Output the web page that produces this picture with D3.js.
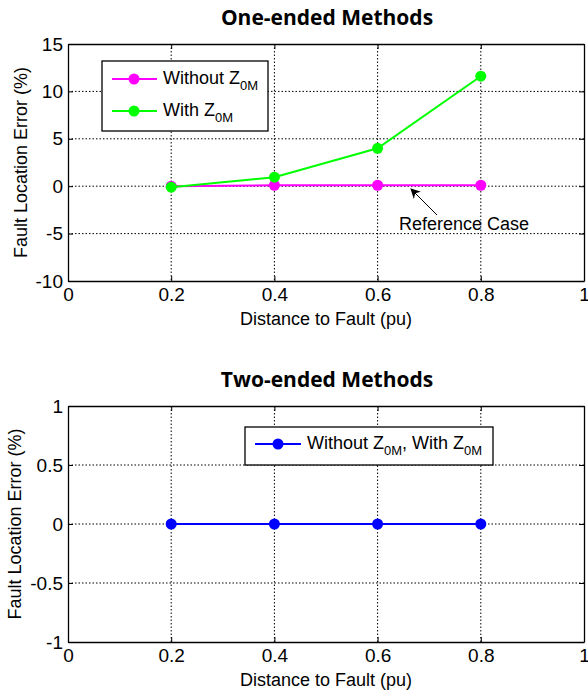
<!DOCTYPE html>
<html>
<head>
<meta charset="utf-8">
<script src="https://cdn.jsdelivr.net/npm/d3@7"></script>
<style>
  body { margin: 0; background: #fff; }
  svg { display: block; font-family: "Liberation Sans", Arial, sans-serif; }
  .grid line { stroke: #000; stroke-width: 1; stroke-dasharray: 1.5,2; }
  .tickTxt { font-size: 19px; fill: #000; }
  .axLbl { font-size: 18px; fill: #000; }
  .title { font-family: "Open Sans", sans-serif; font-weight: bold; font-size: 21px; }
</style>
</head>
<body>
<div id="chart"></div>
<script>
// distances to fault (pu)
var distances = [0.2, 0.4, 0.6, 0.8];
// one-ended errors (%)
var withoutZ0M = [0, 0.1, 0.1, 0.1];
var withZ0M = [-0.1, 0.95, 4.0, 11.6];
// two-ended errors (%)
var twoEnded = [0, 0, 0, 0];

var xTicks = [0, 0.2, 0.4, 0.6, 0.8, 1];
var yTicksTop = [-10, -5, 0, 5, 10, 15];
var yTicksBot = [-1, -0.5, 0, 0.5, 1];

var fmt = function(d){ return String(d); };

var svg = d3.select("#chart").append("svg")
  .attr("width", 588).attr("height", 690);

function drawPanel(cfg){
  var x = d3.scaleLinear().domain([0, 1]).range([68, 584]);
  var y = d3.scaleLinear().domain(cfg.yDomain).range([cfg.bottom, cfg.top]);
  var g = svg.append("g");

  // grid
  var grid = g.append("g").attr("class", "grid");
  grid.selectAll(".vx").data(xTicks.slice(1, -1)).enter().append("line")
    .attr("x1", function(d){ return x(d); }).attr("x2", function(d){ return x(d); })
    .attr("y1", cfg.top).attr("y2", cfg.bottom);
  grid.selectAll(".hy").data(cfg.yTicks.slice(1, -1)).enter().append("line")
    .attr("x1", x(0)).attr("x2", x(1))
    .attr("y1", function(d){ return y(d); }).attr("y2", function(d){ return y(d); });

  // axes with inward ticks
  g.append("g").attr("transform", "translate(0," + cfg.bottom + ")")
    .call(d3.axisBottom(x).tickValues(xTicks).tickSizeInner(-5).tickSizeOuter(0).tickPadding(7).tickFormat(fmt));
  g.append("g").attr("transform", "translate(" + x(0) + ",0)")
    .call(d3.axisLeft(y).tickValues(cfg.yTicks).tickSizeInner(-5).tickSizeOuter(0).tickPadding(5).tickFormat(fmt));
  g.append("g").attr("transform", "translate(0," + cfg.top + ")")
    .call(d3.axisTop(x).tickValues(xTicks).tickSizeInner(-5).tickSizeOuter(0).tickFormat(""));
  g.append("g").attr("transform", "translate(" + x(1) + ",0)")
    .call(d3.axisRight(y).tickValues(cfg.yTicks).tickSizeInner(-5).tickSizeOuter(0).tickFormat(""));
  g.selectAll(".domain").attr("stroke", "#000").attr("stroke-width", 1.3);
  g.selectAll(".tick line").attr("stroke", "#000");
  g.selectAll(".tick text").attr("class", "tickTxt");

  // series
  cfg.series.forEach(function(s){
    var pts = distances.map(function(d, i){ return [d, s.values[i]]; });
    g.append("path").datum(pts)
      .attr("fill", "none").attr("stroke", s.color).attr("stroke-width", 2)
      .attr("d", d3.line().x(function(d){ return x(d[0]); }).y(function(d){ return y(d[1]); }));
    g.selectAll(null).data(pts).enter().append("circle")
      .attr("cx", function(d){ return x(d[0]); }).attr("cy", function(d){ return y(d[1]); })
      .attr("r", 5.5).attr("fill", s.color);
  });

  // title and labels
  g.append("text").attr("class", "title").attr("x", 327).attr("y", cfg.top - 19)
    .attr("text-anchor", "middle").text(cfg.title);
  g.append("text").attr("class", "axLbl").attr("x", 326).attr("y", cfg.bottom + 44)
    .attr("text-anchor", "middle").text("Distance to Fault (pu)");
  var my = (cfg.top + cfg.bottom) / 2;
  g.append("text").attr("class", "axLbl")
    .attr("transform", "translate(" + cfg.yLblX + "," + my + ") rotate(-90)")
    .attr("text-anchor", "middle").text("Fault Location Error (%)");
  return { g: g, x: x, y: y };
}

function addLabel(sel, parts){
  parts.forEach(function(p){
    var t = sel.append("tspan").text(p.t);
    if(p.sub){ t.attr("font-size", "13px").attr("dy", 6); }
    else if(p.after){ t.attr("dy", -6); }
  });
}

// ---- top panel ----
var panelA = drawPanel({
  top: 44, bottom: 281, yDomain: [-10, 15], yTicks: yTicksTop, yLblX: 27,
  title: "One-ended Methods",
  series: [{ values: withoutZ0M, color: "#ff00ff" }, { values: withZ0M, color: "#00ff00" }]
});

var leg1 = panelA.g.append("g");
leg1.append("rect").attr("x", 102).attr("y", 61).attr("width", 166).attr("height", 70)
  .attr("fill", "#fff").attr("stroke", "#000").attr("stroke-width", 1.3);
var legItems = [
  { color: "#ff00ff", parts: [{ t: "Without Z" }, { t: "0M", sub: true }] },
  { color: "#00ff00", parts: [{ t: "With Z" }, { t: "0M", sub: true }] }
];
legItems.forEach(function(it, i){
  var ly = 79 + i * 32;
  leg1.append("line").attr("x1", 112).attr("x2", 157).attr("y1", ly).attr("y2", ly)
    .attr("stroke", it.color).attr("stroke-width", 2);
  leg1.append("circle").attr("cx", 134).attr("cy", ly).attr("r", 5.5).attr("fill", it.color);
  addLabel(leg1.append("text").attr("class", "axLbl").attr("x", 163).attr("y", ly + 5), it.parts);
});

// annotation
panelA.g.append("defs").append("marker").attr("id", "ah")
  .attr("viewBox", "0 0 10 10").attr("refX", 9).attr("refY", 5)
  .attr("markerWidth", 14).attr("markerHeight", 10).attr("markerUnits", "userSpaceOnUse")
  .attr("orient", "auto")
  .append("path").attr("d", "M0,0 L10,5 L0,10 L3,5 Z").attr("fill", "#000");
panelA.g.append("line").attr("x1", 437).attr("y1", 215).attr("x2", 411).attr("y2", 189)
  .attr("stroke", "#000").attr("stroke-width", 1).attr("marker-end", "url(#ah)");
panelA.g.append("text").attr("class", "axLbl").attr("x", 399).attr("y", 230).text("Reference Case");

// ---- bottom panel ----
var panelB = drawPanel({
  top: 406, bottom: 642, yDomain: [-1, 1], yTicks: yTicksBot, yLblX: 21,
  title: "Two-ended Methods",
  series: [{ values: twoEnded, color: "#0000ff" }]
});

var leg2 = panelB.g.append("g");
leg2.append("rect").attr("x", 245).attr("y", 427).attr("width", 248).attr("height", 38)
  .attr("fill", "#fff").attr("stroke", "#000").attr("stroke-width", 1.3);
leg2.append("line").attr("x1", 255).attr("x2", 301).attr("y1", 444).attr("y2", 444)
  .attr("stroke", "#0000ff").attr("stroke-width", 2);
leg2.append("circle").attr("cx", 278).attr("cy", 444).attr("r", 5.5).attr("fill", "#0000ff");
addLabel(leg2.append("text").attr("class", "axLbl").attr("x", 307).attr("y", 449),
  [{ t: "Without Z" }, { t: "0M", sub: true }, { t: ", With Z", after: true }, { t: "0M", sub: true }]);
</script>
</body>
</html>
